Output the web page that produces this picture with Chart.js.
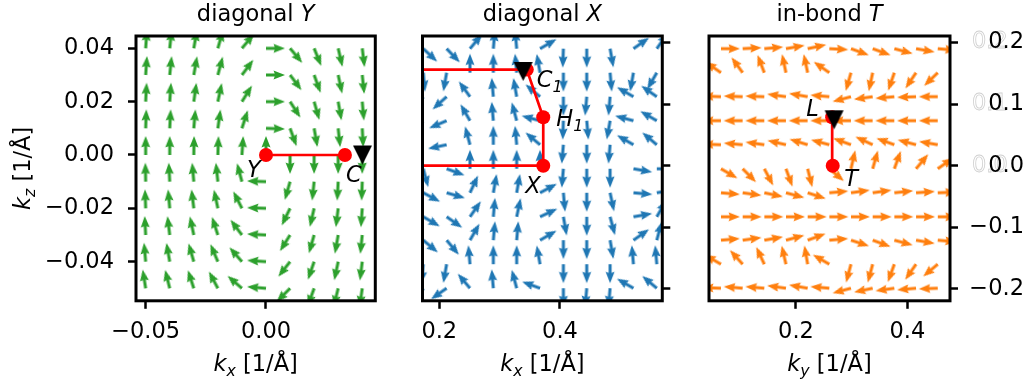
<!DOCTYPE html>
<html lang="en">
<head>
  <meta charset="UTF-8" />
  <title>Spin textures</title>
  <style>
    body { margin: 0; background: #fff; }
    .figure { position: relative; width: 1031px; height: 388px; overflow: hidden; }
    .figure canvas { position: absolute; top: 0; }
  </style>
</head>
<body>
  <div class="figure">
    <canvas id="panelY" width="400" height="388" style="left:0px"></canvas>
    <canvas id="panelX" width="285" height="388" style="left:400px"></canvas>
    <canvas id="panelT" width="346" height="388" style="left:685px"></canvas>
  </div>

  <script src="https://cdn.jsdelivr.net/npm/chart.js"></script>
  <script>
    // ---- diagonal Y ----
    const yGridKx = [-0.05, -0.04, -0.03, -0.02, -0.01, 0.00, 0.01, 0.02, 0.03, 0.04];
    const yGridKz = [0.04, 0.03, 0.02, 0.01, 0.00, -0.01, -0.02, -0.03, -0.04, -0.05];
    // arrow direction in degrees (0 = +k_x, 90 = +k_z), one row per k_z
    const yAngles = [
      [86, 84, 80, 74, 50, 0, -50, -68, -77, -83],
      [86, 84, 80, 75, 53, 0, -53, -70, -78, -84],
      [87, 86, 82, 78, 58, 0, -57, -74, -80, -85],
      [88, 87, 85, 82, 72, -2, -70, -80, -84, -87],
      [90, 90, 89, 88, 86, 90, -90, -90, -90, -90],
      [91, 93, 95, 96, 105, 178, -106, -96, -93, -92],
      [92, 95, 97, 102, 117, 178, -116, -103, -97, -94],
      [93, 97, 102, 108, 127, 177, -122, -106, -100, -96],
      [95, 100, 106, 113, 131, 176, -128, -109, -102, -97],
      [99, 104, 108, 118, 139, 175, -135, -110, -104, -98]
    ];
    const yPathKx = [0.0, 0.0328];
    const yPathKz = [0.0, 0.0];
    const yTriKx = [0.0401];
    const yTriKz = [0.0];

    // ---- diagonal X ----
    const xGridKx = [0.1735, 0.2122, 0.2509, 0.2896, 0.3283, 0.3670, 0.4057, 0.4444, 0.4831, 0.5218, 0.5605];
    const xGridKz = [0.190, 0.151, 0.112, 0.073, 0.034, -0.005, -0.044, -0.083, -0.121, -0.160, -0.199];
    const xAngles = [
      [-43, -46, 50, 85, 95, 30, -92, -90, -80, 35, 55],
      [-85, -100, 90, 90, 95, 100, -90, -90, -85, -100, -120],
      [-130, -138, 126, 95, 100, 140, -90, -95, -95, 150, 145],
      [-150, -157, 120, 95, 105, 165, -92, -85, -100, 165, 150],
      [-165, -168, 105, 90, 95, 140, -95, -90, -95, 150, 140],
      [-75, -20, 90, 90, 90, 90, -95, -90, -90, -10, 0],
      [-28, -16, 65, 80, 80, 28, -85, -90, -78, -5, 10],
      [-30, -35, 55, 85, 78, 25, -80, -90, -75, 10, 60],
      [-40, -50, 60, 85, 85, 30, -90, -90, -80, 35, 75],
      [-95, -100, 95, 90, 90, 100, -90, -90, -90, 95, 95],
      [-120, -145, 130, 95, 105, 160, -90, -95, -95, 150, 140]
    ];
    const xPathKx = [0.10, 0.345, 0.3723, 0.3723, 0.10];
    const xPathKz = [0.156, 0.156, 0.0786, 0.0, 0.0];
    const xDotKx = [0.3723, 0.3723, 0.345];
    const xDotKz = [0.0, 0.0786, 0.156];
    const xTriKx = [0.339];
    const xTriKz = [0.153];

    // ---- in-bond T ----
    const tGridKy = [0.0652, 0.1042, 0.1431, 0.1820, 0.2210, 0.2599, 0.2988, 0.3378, 0.3767, 0.4157, 0.4547];
    const tGridKz = [0.190, 0.151, 0.112, 0.073, 0.034, -0.005, -0.044, -0.083, -0.121, -0.160, -0.199];
    const tAngles = [
      [0, 3, 5, 10, 12, -3, -20, -20, -15, -10, -5],
      [145, 126, 111, 102, 102, 145, -106, -102, -109, -124, -136],
      [178, 178, 178, 172, 170, 175, -165, -172, -175, -178, 180],
      [180, 180, 180, 180, 180, 180, 180, 180, 180, 180, 180],
      [178, 175, 172, 167, 163, 165, 160, 155, 160, 165, 170],
      [-30, -45, -62, -70, -76, -40, 77, 74, 70, 50, 35],
      [-5, -8, -12, -15, -18, 5, 8, 8, 6, 4, 2],
      [0, 0, 0, 0, 0, 0, 0, 0, 0, 0, 0],
      [5, 8, 10, 15, 20, 5, -18, -20, -15, -10, -5],
      [150, 132, 115, 103, 100, 150, -105, -105, -110, -125, -140],
      [178, 175, 175, 172, 170, 175, -165, -168, -172, -175, -178]
    ];
    const tPathKy = [0.266, 0.265];
    const tPathKz = [0.0, 0.0786];
    const tTriKy = [0.2685];
    const tTriKz = [0.0745];

    // ticks
    const yTicksX = [-0.05, 0.0];
    const yTickLabelsX = ['\u22120.05', '0.00'];
    const yTicksZ = [0.04, 0.02, 0.0, -0.02, -0.04];
    const yTickLabelsZ = ['0.04', '0.02', '0.00', '\u22120.02', '\u22120.04'];
    const xTicksX = [0.2, 0.4];
    const xTickLabelsX = ['0.2', '0.4'];
    const tTicksY = [0.2, 0.4];
    const tTickLabelsY = ['0.2', '0.4'];
    const kzTicks = [0.2, 0.1, 0.0, -0.1, -0.2];
    const kzTickLabels = ['0.2', '0.1', '0.0', '\u22120.1', '\u22120.2'];

    const FONT = 'DejaVu Sans';
    const FS = 22.5;
    Chart.defaults.font.family = FONT;
    Chart.defaults.font.size = FS;
    Chart.defaults.color = '#000';

    const ARROW_LEN = 19, SHAFT = 3.1;

    function arrowImage(color) {
      const c = document.createElement('canvas');
      const s = 2 * ARROW_LEN + 8;
      c.width = s; c.height = s;
      const g = c.getContext('2d');
      const m = s / 2, L = ARROW_LEN;
      const hw = 9, hl = 11.5, hal = 10.3;
      g.fillStyle = color;
      g.beginPath();
      g.moveTo(m, m - SHAFT / 2);
      g.lineTo(m + L - hal, m - SHAFT / 2);
      g.lineTo(m + L - hl, m - hw / 2);
      g.lineTo(m + L, m);
      g.lineTo(m + L - hl, m + hw / 2);
      g.lineTo(m + L - hal, m + SHAFT / 2);
      g.lineTo(m, m + SHAFT / 2);
      g.closePath();
      g.fill();
      return c;
    }

    function triangleDown(size) {
      const c = document.createElement('canvas');
      c.width = c.height = size + 2;
      const g = c.getContext('2d');
      const m = (size + 2) / 2, h = size / 2;
      g.fillStyle = '#000';
      g.beginPath();
      g.moveTo(m - h, m - h);
      g.lineTo(m + h, m - h);
      g.lineTo(m, m + h);
      g.closePath();
      g.fill();
      return c;
    }
    const triImg = triangleDown(19);

    const zip = (xs, ys) => xs.map((x, i) => ({ x, y: ys[i] }));

    function quiver(xs, ys, angles, color) {
      const pts = [], rot = [];
      ys.forEach((y, r) => xs.forEach((x, c) => {
        pts.push({ x, y });
        rot.push(-angles[r][c]);
      }));
      return {
        data: pts, pointStyle: arrowImage(color), pointRotation: rot,
        pointRadius: 9, pointHoverRadius: 9, clip: 0, order: 5
      };
    }

    function pathSet(xs, ys) {
      return {
        data: zip(xs, ys), showLine: true, borderColor: '#ff0000', borderWidth: 2.7,
        pointRadius: 0, pointHoverRadius: 0, clip: 0, order: 3
      };
    }

    function dotSet(xs, ys) {
      return {
        data: zip(xs, ys), pointStyle: 'circle', pointRadius: 7, pointHoverRadius: 7,
        pointBackgroundColor: '#ff0000', pointBorderWidth: 0, clip: 0, order: 2
      };
    }

    function triSet(xs, ys) {
      return {
        data: zip(xs, ys), pointStyle: triImg, pointRadius: 9, pointHoverRadius: 9,
        clip: false, order: 1
      };
    }

    function xAxis(min, max, ticks, labels) {
      return {
        type: 'linear', position: 'bottom', min, max,
        afterBuildTicks: a => { a.ticks = ticks.map(v => ({ value: v })); },
        afterFit: a => { a.height = 87.2; },
        ticks: {
          callback: (v, i) => labels[i], padding: 10,
          autoSkip: false, maxRotation: 0, minRotation: 0
        },
        grid: { drawOnChartArea: false, tickLength: 8, tickWidth: 2.5, tickColor: '#000' },
        border: { display: false }
      };
    }

    function yAxis(min, max, ticks, labels, opts) {
      return {
        type: 'linear', position: opts.position, min, max,
        afterBuildTicks: a => { a.ticks = ticks.map(v => ({ value: v })); },
        afterFit: a => { a.width = opts.width; },
        ticks: {
          display: opts.labels, callback: (v, i) => labels[i], padding: opts.pad,
          crossAlign: opts.cross || 'near', autoSkip: false
        },
        grid: { drawOnChartArea: false, tickLength: 8, tickWidth: 2.5, tickColor: '#000' },
        border: { display: false }
      };
    }

    // text made of runs: [text, italic, subscript]
    function drawRuns(ctx, runs, x, y, size, align) {
      let total = 0;
      const parts = runs.map(([t, it, sub]) => {
        const fs = sub ? size * 0.7 : size;
        const font = (it ? 'italic ' : '') + fs + 'px "' + FONT + '"';
        ctx.font = font;
        const w = ctx.measureText(t).width;
        total += w;
        return { t, font, w, dy: sub ? size * 0.22 : 0 };
      });
      let cx = align === 'center' ? x - total / 2 : x;
      ctx.textAlign = 'left';
      ctx.textBaseline = 'alphabetic';
      for (const p of parts) {
        ctx.font = p.font;
        ctx.fillText(p.t, cx, y + p.dy);
        cx += p.w;
      }
    }

    const decorPlugin = {
      id: 'decor',
      beforeDraw(chart, args, o) {
        if (!o.ghost) return;
        const ctx = chart.ctx, sc = chart.scales.y;
        ctx.save();
        ctx.font = FS + 'px "' + FONT + '"';
        ctx.textAlign = 'left';
        ctx.textBaseline = 'middle';
        ctx.strokeStyle = '#d0d0d0';
        ctx.lineWidth = 0.8;
        kzTicks.forEach((v, i) => {
          if (v >= 0) ctx.strokeText(kzTickLabels[i], o.ghost, sc.getPixelForValue(v));
        });
        ctx.restore();
      },
      afterDraw(chart, args, o) {
        const ctx = chart.ctx, ca = chart.chartArea;
        const xs = chart.scales.x, ys = chart.scales.y;
        ctx.save();
        // frame
        ctx.strokeStyle = '#000';
        ctx.lineWidth = 3;
        ctx.strokeRect(ca.left, ca.top, ca.right - ca.left, ca.bottom - ca.top);
        ctx.fillStyle = '#000';
        const cx = (ca.left + ca.right) / 2;
        drawRuns(ctx, o.title, cx, 21, FS, 'center');
        drawRuns(ctx, o.xlabel, cx, 371, FS, 'center');
        if (o.ylabel) {
          ctx.save();
          ctx.translate(30, (ca.top + ca.bottom) / 2);
          ctx.rotate(-Math.PI / 2);
          drawRuns(ctx, o.ylabel, 0, 0, FS, 'center');
          ctx.restore();
        }
        (o.marks || []).forEach(m => {
          drawRuns(ctx, m.runs, xs.getPixelForValue(m.x) + m.dx, ys.getPixelForValue(m.y) + m.dy, FS, 'left');
        });
        ctx.restore();
      }
    };

    function makeChart(id, datasets, scales, padding, decor) {
      return new Chart(document.getElementById(id), {
        type: 'scatter',
        data: { datasets },
        options: {
          responsive: false, animation: false, events: [],
          layout: { padding },
          scales,
          plugins: { legend: { display: false }, tooltip: { enabled: false }, decor }
        },
        plugins: [decorPlugin]
      });
    }

    const kLabel = sub => [['k', true], [sub, true, true], [' [1/\u00c5]', false]];

    makeChart('panelY', [
      quiver(yGridKx, yGridKz, yAngles, '#2ca02c'),
      pathSet(yPathKx, yPathKz),
      dotSet(yPathKx, yPathKz),
      triSet(yTriKx, yTriKz)
    ], {
      x: xAxis(-0.05402, 0.04542, yTicksX, yTickLabelsX),
      y: yAxis(-0.05467, 0.04462, yTicksZ, yTickLabelsZ, { position: 'left', width: 136, labels: true, pad: 14 })
    }, { top: 36, right: 24.7, left: 0, bottom: 0 }, {
      title: [['diagonal ', false], ['Y', true]],
      xlabel: kLabel('x'),
      ylabel: kLabel('z'),
      marks: [
        { x: 0.0, y: 0.0, runs: [['Y', true]], dx: -19, dy: 22 },
        { x: 0.0328, y: 0.0, runs: [['C', true]], dx: 1, dy: 27 }
      ]
    });

    makeChart('panelX', [
      quiver(xGridKx, xGridKz, xAngles, '#1f77b4'),
      pathSet(xPathKx, xPathKz),
      dotSet(xDotKx, xDotKz),
      triSet(xTriKx, xTriKz)
    ], {
      x: xAxis(0.1722, 0.5696, xTicksX, xTickLabelsX),
      y: yAxis(-0.2194, 0.2106, kzTicks, kzTickLabels, { position: 'right', width: 22.7, labels: false, pad: 4 })
    }, { top: 36, right: 0, left: 22.5, bottom: 0 }, {
      title: [['diagonal ', false], ['X', true]],
      xlabel: kLabel('x'),
      marks: [
        { x: 0.345, y: 0.156, runs: [['C', true], ['1', true, true]], dx: 10, dy: 17.7 },
        { x: 0.3723, y: 0.0786, runs: [['H', true], ['1', true, true]], dx: 13, dy: 8.5 },
        { x: 0.3723, y: 0.0, runs: [['X', true]], dx: -18, dy: 27 }
      ]
    });

    makeChart('panelT', [
      quiver(tGridKy, tGridKz, tAngles, '#ff7f0e'),
      pathSet(tPathKy, tPathKz),
      dotSet(tPathKy, tPathKz),
      triSet(tTriKy, tTriKz)
    ], {
      x: xAxis(0.04372, 0.4767, tTicksY, tTickLabelsY),
      y: yAxis(-0.2194, 0.2106, kzTicks, kzTickLabels, { position: 'right', width: 74, labels: true, pad: 0, cross: 'far' })
    }, { top: 36, right: 7, left: 24, bottom: 0 }, {
      title: [['in-bond ', false], ['T', true]],
      xlabel: kLabel('y'),
      ghost: 287,
      marks: [
        { x: 0.265, y: 0.0786, runs: [['L', true]], dx: -26, dy: -1.6 },
        { x: 0.266, y: 0.0, runs: [['T', true]], dx: 11.5, dy: 20 }
      ]
    });
  </script>
</body>
</html>
